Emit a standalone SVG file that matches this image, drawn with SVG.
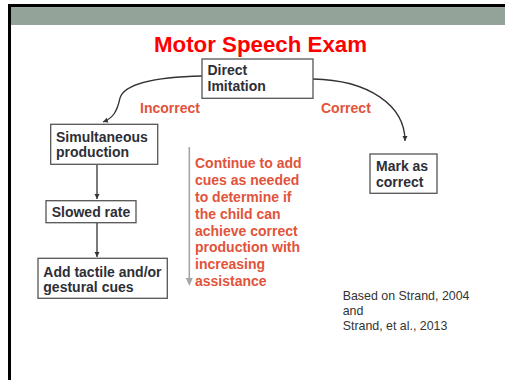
<svg xmlns="http://www.w3.org/2000/svg" width="505" height="380" viewBox="0 0 505 380">
<defs>
<style>
.box{fill:#fff;stroke:#555;stroke-width:1.3}
.bt{font-family:"Liberation Sans",Arial,sans-serif;font-weight:bold;font-size:14px;fill:#2e2e36}
.rt{font-family:"Liberation Sans",Arial,sans-serif;font-weight:bold;font-size:14px;fill:#E2533B}
.cite{font-family:"Liberation Sans",Arial,sans-serif;font-size:12.4px;fill:#333}
.con{fill:none;stroke:#333;stroke-width:1.3}
</style>
<marker id="ah" markerWidth="6" markerHeight="6" refX="5" refY="3" orient="auto" markerUnits="userSpaceOnUse">
<path d="M0,0.5 L5,3 L0,5.5 Z" fill="#333"/>
</marker>
</defs>
<rect x="0" y="0" width="505" height="380" fill="#fff"/>
<rect x="8" y="4" width="497" height="3.3" fill="#000"/>
<rect x="8" y="4" width="3" height="376" fill="#000"/>
<rect x="11" y="7.3" width="494" height="17.7" fill="#93A399"/>
<text x="260.5" y="52" text-anchor="middle" font-family="Liberation Sans,Arial,sans-serif" font-weight="bold" font-size="22.3" fill="#FF0000">Motor Speech Exam</text>

<g id="connectors">
<path class="con" d="M202,76 C160,77 125,82 120,98 C117,112 113,118 103,122" marker-end="url(#ah)"/>
<path class="con" d="M313,79 C368,80 405,105 405,141" marker-end="url(#ah)"/>
<path class="con" d="M97,164.3 L97,199" marker-end="url(#ah)"/>
<path class="con" d="M97,222.7 L97,257" marker-end="url(#ah)"/>
<text class="rt" x="140" y="112.7">Incorrect</text>
<text class="rt" x="321" y="112.7">Correct</text>
</g>

<g id="direct">
<rect class="box" x="202" y="59" width="111" height="39.3"/>
<text class="bt" x="207.5" y="75">Direct</text>
<text class="bt" x="207.5" y="90.7">Imitation</text>
</g>
<g id="simultaneous">
<rect class="box" x="50.7" y="124.3" width="107" height="40"/>
<text class="bt" x="56" y="141.7">Simultaneous</text>
<text class="bt" x="56" y="157">production</text>
</g>
<g id="slowed">
<rect class="box" x="46" y="200.7" width="90" height="22"/>
<text class="bt" x="51.7" y="216.5">Slowed rate</text>
</g>
<g id="tactile">
<rect class="box" x="38" y="258.3" width="129.3" height="40"/>
<text class="bt" x="43.3" y="276.7">Add tactile and/or</text>
<text class="bt" x="43.3" y="292">gestural cues</text>
</g>
<g id="mark">
<rect class="box" x="370" y="154" width="67" height="39.3"/>
<text class="bt" x="376" y="170.7">Mark as</text>
<text class="bt" x="376" y="186.5">correct</text>
</g>
<g id="continue">
<line x1="189.3" y1="147" x2="189.3" y2="279" stroke="#A6A6A6" stroke-width="1.6"/>
<path d="M185.8,278 L192.8,278 L189.3,286 Z" fill="#A6A6A6"/>
<text class="rt" x="195" y="168.3">Continue to add</text>
<text class="rt" x="195" y="185.1">cues as needed</text>
<text class="rt" x="195" y="201.9">to determine if</text>
<text class="rt" x="195" y="218.7">the child can</text>
<text class="rt" x="195" y="235.5">achieve correct</text>
<text class="rt" x="195" y="252.3">production with</text>
<text class="rt" x="195" y="269.1">increasing</text>
<text class="rt" x="195" y="285.9">assistance</text>
</g>
<g id="citation">
<text class="cite" x="342.7" y="300">Based on Strand, 2004</text>
<text class="cite" x="342.7" y="315">and</text>
<text class="cite" x="342.7" y="330">Strand, et al., 2013</text>
</g>
</svg>
